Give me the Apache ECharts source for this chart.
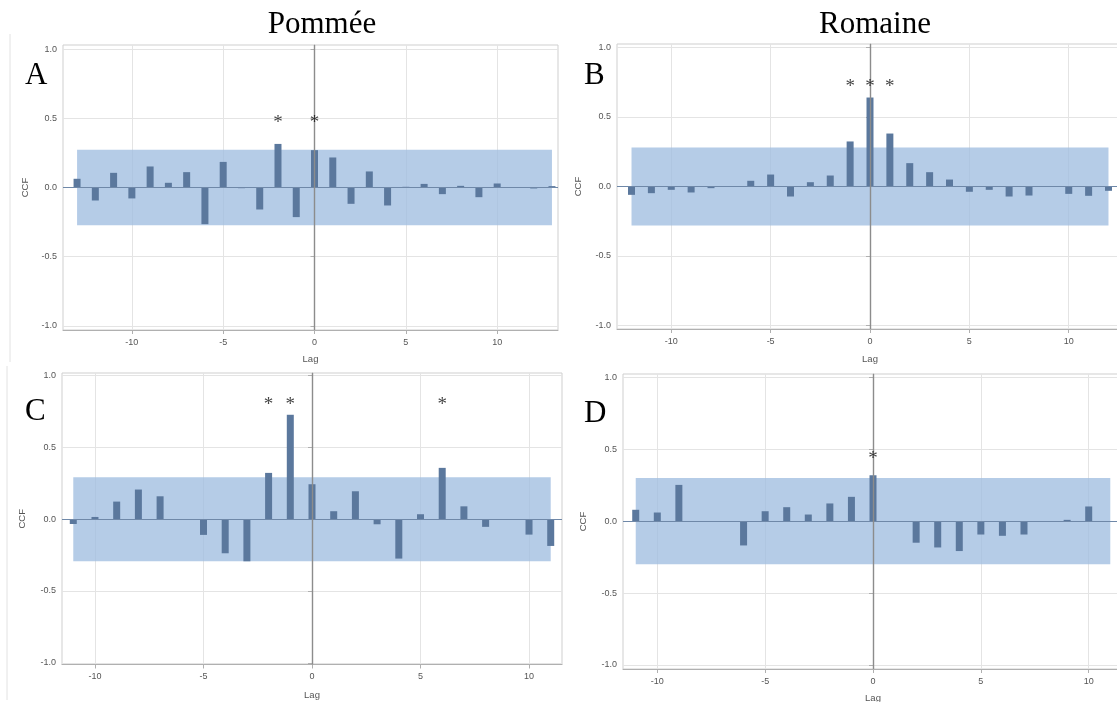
<!DOCTYPE html>
<html>
<head>
<meta charset="utf-8">
<script src="https://cdn.jsdelivr.net/npm/echarts@6/dist/echarts.min.js"></script>
<style>
html,body{margin:0;padding:0;background:#fff;}
#chart{width:1117px;height:702px;}
</style>
</head>
<body>
<div id="chart"></div>
<script>
// ---- data ----
const panelTitles = ['Pommée', 'Romaine'];
const panelLetters = ['A', 'B', 'C', 'D'];
const yTickValues = [-1, -0.5, 0, 0.5, 1];
const xTickValues = [-10, -5, 0, 5, 10];

const lagsA = [-13,-12,-11,-10,-9,-8,-7,-6,-5,-4,-3,-2,-1,0,1,2,3,4,5,6,7,8,9,10,11,12,13];
const ccfA  = [0.063,-0.094,0.106,-0.079,0.152,0.034,0.111,-0.265,0.185,-0.005,-0.159,0.315,-0.214,0.27,0.217,-0.118,0.116,-0.13,0.005,0.026,-0.048,0.012,-0.07,0.029,0.002,-0.007,0.01];
const bandA = 0.272;
const starsA = [-2, 0];

const lagsB = [-12,-11,-10,-9,-8,-7,-6,-5,-4,-3,-2,-1,0,1,2,3,4,5,6,7,8,9,10,11,12];
const ccfB  = [-0.06,-0.048,-0.024,-0.043,-0.012,-0.003,0.041,0.086,-0.072,0.031,0.079,0.324,0.64,0.381,0.168,0.103,0.05,-0.038,-0.024,-0.072,-0.065,0.0,-0.053,-0.067,-0.031];
const bandB = 0.28;
const starsB = [-1, 0, 1];

const lagsC = [-11,-10,-9,-8,-7,-6,-5,-4,-3,-2,-1,0,1,2,3,4,5,6,7,8,9,10,11];
const ccfC  = [-0.033,0.016,0.123,0.207,0.16,0,-0.109,-0.237,-0.293,0.323,0.728,0.244,0.056,0.195,-0.035,-0.274,0.035,0.358,0.09,-0.053,0,-0.107,-0.186];
const bandC = 0.293;
const starsC = [-2, -1, 6];

const lagsD = [-11,-10,-9,-8,-7,-6,-5,-4,-3,-2,-1,0,1,2,3,4,5,6,7,8,9,10,11];
const ccfD  = [0.079,0.06,0.252,-0.003,0,-0.169,0.069,0.097,0.046,0.123,0.169,0.319,0,-0.15,-0.183,-0.208,-0.093,-0.102,-0.093,0,0.009,0.102,-0.003];
const bandD = 0.30;
const starsD = [0];

// ---- layout / style ----
const BAR = '#5b789d';
const BAND = 'rgba(160,190,224,0.78)';
const GRIDC = '#e4e4e4';

const panels = [
  { lags: lagsA, ccf: ccfA, band: bandA, stars: starsA, starY: 0.5,
    grid: { left: 63, top: 45, width: 495, height: 285 }, xr: [-13.77, 13.33], yr: [-1.03, 1.03], lagGap: 24, ccfGap: 33 },
  { lags: lagsB, ccf: ccfB, band: bandB, stars: starsB, starY: 0.755,
    grid: { left: 617, top: 44, width: 506, height: 285 }, xr: [-12.73, 12.73], yr: [-1.025, 1.025], lagGap: 25, ccfGap: 34 },
  { lags: lagsC, ccf: ccfC, band: bandC, stars: starsC, starY: 0.83,
    grid: { left: 62, top: 373, width: 500, height: 291.5 }, xr: [-11.52, 11.52], yr: [-1.012, 1.019], lagGap: 26, ccfGap: 35 },
  { lags: lagsD, ccf: ccfD, band: bandD, stars: starsD, starY: 0.468,
    grid: { left: 623, top: 374, width: 500, height: 295 }, xr: [-11.59, 11.59], yr: [-1.028, 1.023], lagGap: 24, ccfGap: 35 }
];

const grids = [], xAxes = [], yAxes = [], series = [];
const tickFont = { fontFamily: 'Liberation Sans', fontSize: 9, color: '#555' };

panels.forEach((p, i) => {
  grids.push(Object.assign({ show: true, borderColor: '#cfcfcf', borderWidth: 1, backgroundColor: '#fff',
    containLabel: false, outerBoundsMode: 'none' }, p.grid));
  xAxes.push({
    type: 'value', gridIndex: i, min: p.xr[0], max: p.xr[1],
    name: 'Lag', nameLocation: 'middle', nameGap: p.lagGap,
    nameTextStyle: { fontFamily: 'Liberation Sans', fontSize: 9.5, color: '#555' },
    axisLine: { show: true, onZero: false, lineStyle: { color: '#b0b0b0' } },
    axisTick: { show: true, customValues: xTickValues, length: 4, lineStyle: { color: '#b0b0b0' } },
    axisLabel: Object.assign({ customValues: xTickValues, margin: 8, formatter: v => String(v) }, tickFont),
    splitLine: { show: false }
  });
  yAxes.push({
    type: 'value', gridIndex: i, min: p.yr[0], max: p.yr[1],
    name: 'CCF', nameLocation: 'middle', nameGap: p.ccfGap, nameRotate: 90,
    nameTextStyle: { fontFamily: 'Liberation Sans', fontSize: 9.5, color: '#555' },
    axisLine: { show: true, lineStyle: { color: '#b0b0b0' } },
    axisTick: { show: true, customValues: yTickValues, length: 4, lineStyle: { color: '#b0b0b0' } },
    axisLabel: Object.assign({ customValues: yTickValues, margin: 6, formatter: v => v.toFixed(1) }, tickFont),
    splitLine: { show: false }
  });

  const lagMin = Math.min.apply(null, p.lags), lagMax = Math.max.apply(null, p.lags);

  // background gridlines
  series.push({
    type: 'line', xAxisIndex: i, yAxisIndex: i, data: [], silent: true,
    markLine: {
      silent: true, symbol: 'none', z: 0, label: { show: false },
      lineStyle: { color: GRIDC, width: 1, type: 'solid' },
      data: yTickValues.filter(v => v !== 0).map(v => ({ yAxis: v }))
        .concat(xTickValues.filter(v => v !== 0).map(v => ({ xAxis: v })))
    }
  });

  // bars + confidence band + zero lines
  series.push({
    type: 'bar', xAxisIndex: i, yAxisIndex: i, barWidth: 7,
    itemStyle: { color: BAR },
    data: p.lags.map((l, k) => [l, p.ccf[k]]),
    markArea: {
      silent: true, z: 1,
      itemStyle: { color: BAND },
      data: [[{ xAxis: lagMin, yAxis: -p.band }, { xAxis: lagMax, yAxis: p.band }]]
    },
    markLine: {
      silent: true, symbol: 'none', label: { show: false },
      data: [
        { yAxis: 0, lineStyle: { color: '#6f88a8', width: 1, type: 'solid' } },
        { xAxis: 0, lineStyle: { color: '#8c8c8c', width: 1.4, type: 'solid' } }
      ]
    }
  });

  // significance asterisks
  series.push({
    type: 'scatter', xAxisIndex: i, yAxisIndex: i, symbolSize: 1, silent: true, z: 10,
    itemStyle: { color: 'rgba(0,0,0,0)' },
    data: p.stars.map(l => [l, p.starY]),
    label: { show: true, position: 'inside', formatter: '*', fontFamily: 'Liberation Serif',
      fontSize: 19, color: '#111', offset: [0, 5] }
  });
});

const titleFont = '31px "Liberation Serif"';
const letterFont = '31px "Liberation Serif"';
const graphics = [
  { type: 'text', x: 322, y: 9, style: { text: panelTitles[0], font: titleFont, fill: '#000', align: 'center', verticalAlign: 'top' } },
  { type: 'text', x: 875, y: 9, style: { text: panelTitles[1], font: titleFont, fill: '#000', align: 'center', verticalAlign: 'top' } },
  { type: 'text', left: 25, top: 60, style: { text: panelLetters[0], font: letterFont, fill: '#000' } },
  { type: 'text', left: 584, top: 60, style: { text: panelLetters[1], font: letterFont, fill: '#000' } },
  { type: 'text', left: 25, top: 396, style: { text: panelLetters[2], font: letterFont, fill: '#000' } },
  { type: 'text', left: 584, top: 398, style: { text: panelLetters[3], font: letterFont, fill: '#000' } },
  { type: 'line', shape: { x1: 10, y1: 34, x2: 10, y2: 362 }, style: { stroke: '#e2e2e2', lineWidth: 1 }, z: -1 },
  { type: 'line', shape: { x1: 7, y1: 366, x2: 7, y2: 700 }, style: { stroke: '#e2e2e2', lineWidth: 1 }, z: -1 }
];

const chart = echarts.init(document.getElementById('chart'), null, { renderer: 'canvas' });
chart.setOption({
  animation: false,
  backgroundColor: '#fff',
  grid: grids, xAxis: xAxes, yAxis: yAxes, series: series,
  graphic: graphics
});
</script>
</body>
</html>
